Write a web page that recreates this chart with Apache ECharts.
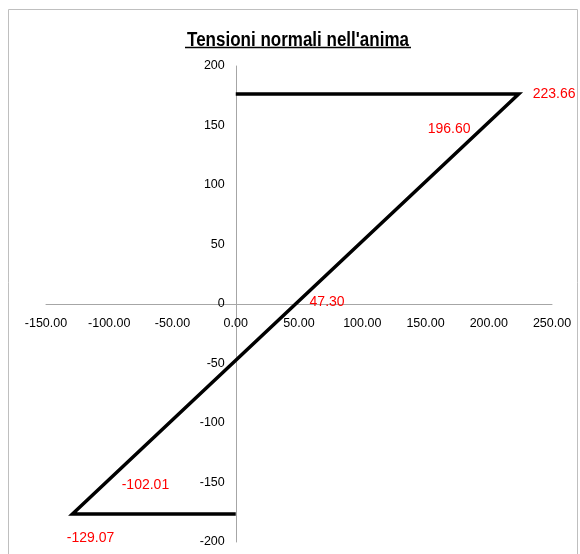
<!DOCTYPE html>
<html>
<head>
<meta charset="utf-8">
<script src="https://cdn.jsdelivr.net/npm/echarts@6/dist/echarts.min.js"></script>
<style>
  html, body { margin: 0; padding: 0; background: #fff; }
  #chart { width: 580px; height: 554px; }
</style>
</head>
<body>
<div id="chart"></div>
<script>
// dati del diagramma (tensione, quota)
const stressX = [0, 223.66, 196.60, 47.30, -102.01, -129.07, 0]
const heightY = [176.4, 176.4, 149.3, 0, -149.3, -176.4, -176.4]
const labelShown = [false, true, true, true, true, true, false]

// posizione delle etichette rosse
const labelPlace = [
  null,
  { position: 'right', distance: 14, offset: [0, 0] },
  { position: 'left', distance: 14, offset: [0, 3] },
  { position: 'right', distance: 14, offset: [0, -2] },
  { position: 'right', distance: 15, offset: [0, 3] },
  { position: 'bottom', distance: 12, offset: [18, 5] },
  null
]

const points = stressX.map((x, i) => {
  const item = { value: [x, heightY[i]] }
  if (labelShown[i]) {
    item.label = Object.assign({ show: true }, labelPlace[i])
  } else {
    item.label = { show: false }
  }
  return item
})

const chart = echarts.init(document.getElementById('chart'))
const fontName = "'Liberation Sans', Arial, sans-serif"
const tickFont = { fontFamily: fontName, fontSize: 12.5, color: '#000' }
const axisGray = '#a6a6a6'

// griglia: gli assi si incrociano nello zero
const gridLeft = 46, gridRight = 28, gridTop = 66, gridBottom = 12
const gridW = 580 - gridLeft - gridRight
const gridH = 554 - gridTop - gridBottom

chart.setOption({
  animation: false,
  graphic: [
    {
      type: 'rect',
      shape: { x: 8.5, y: 9.5, width: 569, height: 560 },
      style: { fill: 'none', stroke: '#bfbfbf', lineWidth: 1 }
    },
    {
      type: 'text',
      x: 298,
      y: 30,
      scaleX: 0.85,
      style: {
        text: "Tensioni normali nell'anima",
        textAlign: 'center',
        fontFamily: fontName,
        fontWeight: 'bold',
        fontSize: 20,
        fill: '#000'
      }
    },
    {
      type: 'line',
      shape: { x1: 185, y1: 47.5, x2: 411, y2: 47.5 },
      style: { stroke: '#000', lineWidth: 1.5 }
    }
  ],
  grid: { left: gridLeft, right: gridRight, top: gridTop, bottom: gridBottom },
  xAxis: {
    type: 'value',
    min: -150,
    max: 250,
    interval: 50,
    offset: -gridH / 2,
    splitLine: { show: false },
    axisTick: { show: false },
    axisLine: { onZero: false, lineStyle: { color: axisGray, width: 1 } },
    axisLabel: Object.assign({ margin: 13, formatter: v => v.toFixed(2) }, tickFont)
  },
  yAxis: {
    type: 'value',
    min: -200,
    max: 200,
    interval: 50,
    offset: -gridW * 150 / 400,
    splitLine: { show: false },
    axisTick: { show: false },
    axisLine: { show: true, onZero: false, lineStyle: { color: axisGray, width: 1 } },
    axisLabel: Object.assign({ margin: 11 }, tickFont)
  },
  series: [{
    type: 'line',
    data: points,
    showSymbol: true,
    symbol: 'circle',
    symbolSize: 0,
    lineStyle: { color: '#000', width: 3.5, join: 'miter' },
    itemStyle: { color: '#000' },
    label: {
      fontFamily: fontName,
      fontSize: 14,
      color: '#ff0000',
      formatter: p => p.value[0].toFixed(2)
    },
    z: 3
  }]
})
</script>
</body>
</html>
